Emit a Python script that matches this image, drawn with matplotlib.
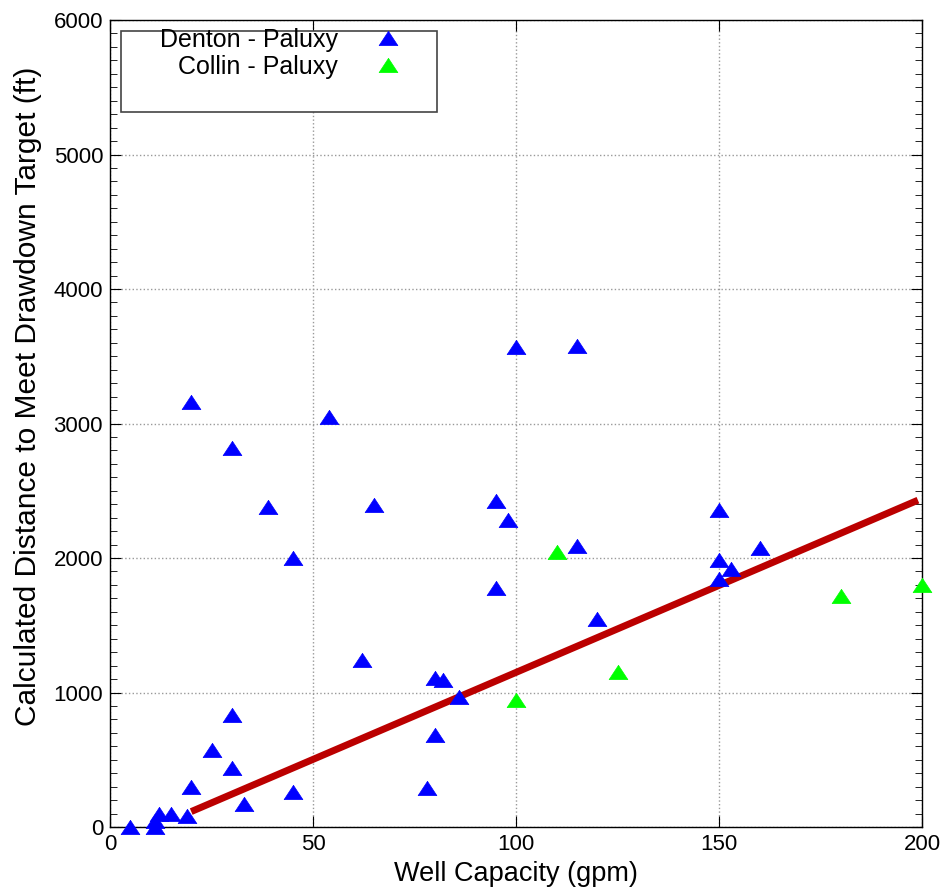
import matplotlib.pyplot as plt
from matplotlib.patches import Rectangle
from matplotlib.ticker import MultipleLocator

plt.rcParams['font.family'] = ['Liberation Sans', 'DejaVu Sans']

# Denton - Paluxy wells
denton_x = [5, 11, 11, 12, 15, 19, 20, 20, 25, 30, 30, 30, 33, 39, 45, 45, 54, 62, 65,
            78, 80, 80, 82, 86, 95, 95, 98, 100, 115, 115, 120, 150, 150, 150, 153, 160]
denton_y = [0, 0, 45, 97, 97, 84, 297, 3162, 572, 833, 438, 2816, 171, 2381, 262, 2002, 3046, 1242, 2394,
            288, 1105, 684, 1093, 969, 2426, 1778, 2286, 3571, 3578, 2091, 1550, 2357, 1985, 1844, 1916, 2072]

# Collin - Paluxy wells
collin_x = [100, 110, 125, 180, 200]
collin_y = [944, 2047, 1152, 1717, 1799]

# trend line end points
fit_x = [20, 199]
fit_y = [115, 2430]

# wide flat triangle
tri = [(0, 0.76), (-1, -0.76), (1, -0.76), (0, 0.76)]

fig = plt.figure(figsize=(9.51, 8.89), dpi=100)
ax = fig.add_axes([0.1157, 0.0697, 0.8538, 0.9078])

ax.plot(fit_x, fit_y, color='#bb0000', linewidth=5, solid_capstyle='butt', zorder=2)
ax.plot(denton_x, denton_y, linestyle='none', marker=tri, markersize=13.5,
        color='#0000ff', markeredgewidth=0.5, label='Denton - Paluxy', zorder=3, clip_on=False)
ax.plot(collin_x, collin_y, linestyle='none', marker=tri, markersize=13.5,
        color='#00ff00', markeredgewidth=0.5, label='Collin - Paluxy', zorder=3, clip_on=False)

ax.set_xlim(0, 200)
ax.set_ylim(0, 6000)
ax.xaxis.set_major_locator(MultipleLocator(50))
ax.yaxis.set_major_locator(MultipleLocator(1000))
ax.yaxis.set_minor_locator(MultipleLocator(100))
ax.tick_params(which='both', direction='in', top=True, right=True, labelsize=16, pad=5)
ax.tick_params(which='major', length=8)
ax.tick_params(which='minor', length=5)
ax.grid(True, which='major', linestyle=':', color='#999999', linewidth=1)
for s in ax.spines.values():
    s.set_linewidth(1)

ax.set_xlabel('Well Capacity (gpm)', fontsize=19.5, labelpad=4)
ax.set_ylabel('Calculated Distance to Meet Drawdown Target (ft)', fontsize=21.5)
ax.yaxis.set_label_coords(-0.084, 0.534)

# legend frame drawn separately
ax.add_patch(Rectangle((0.0135, 0.886), 0.389, 0.1004, transform=ax.transAxes,
                       facecolor='white', edgecolor='#444444', linewidth=1.2, zorder=4))
leg = ax.legend(loc='upper right', bbox_to_anchor=(0.373, 0.990), frameon=False,
                markerfirst=False, fontsize=18, borderpad=0, borderaxespad=0,
                labelspacing=0.12, handletextpad=1.0, handlelength=2, numpoints=1)
leg.set_zorder(5)

fig.savefig('out.png', dpi=100)
